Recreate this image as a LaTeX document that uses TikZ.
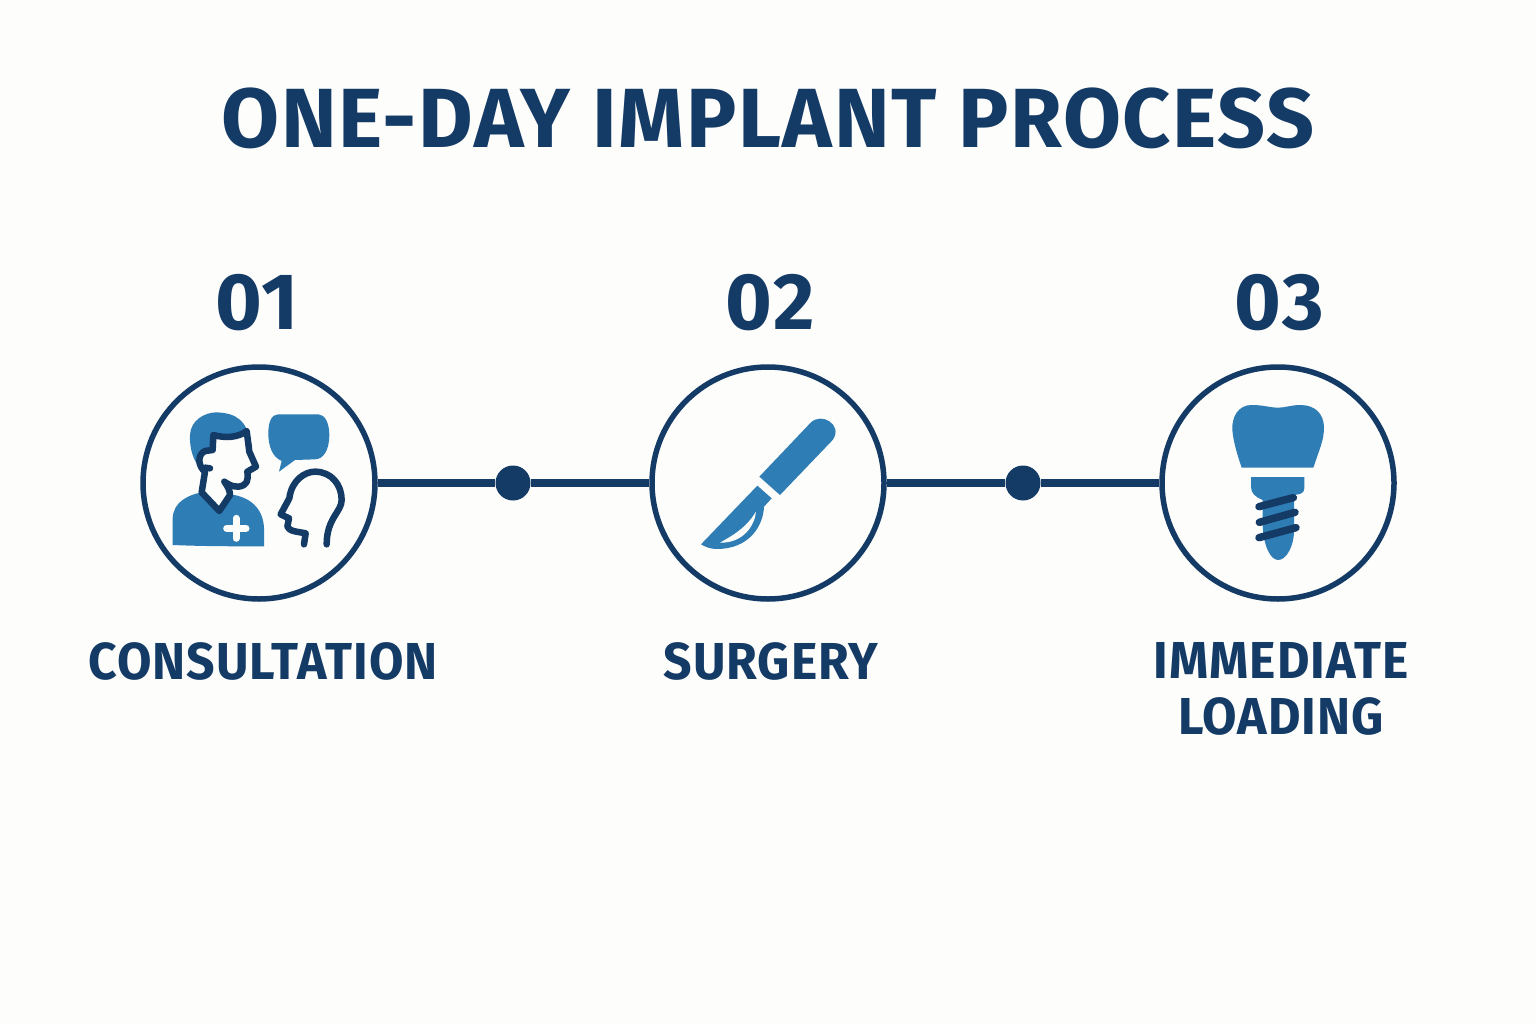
\documentclass[tikz,border=0pt]{standalone}
\usepackage{fontspec}
\setmainfont{Fira Sans}
\newfontfamily\titlefont[LetterSpace=2,Numbers=Lining]{Fira Sans}
\newfontfamily\labelfont[LetterSpace=2,FakeStretch=0.96]{Fira Sans}
\definecolor{navy}{HTML}{143A66}
\definecolor{iconblue}{HTML}{2E7DB5}
\definecolor{paper}{HTML}{FDFDFB}
\tikzset{
  stepcircle/.style={circle,draw=navy,line width=5.5pt,fill=paper,minimum size=232pt,inner sep=0pt},
  linkdot/.style={circle,fill=navy,minimum size=35pt,inner sep=0pt},
  link/.style={draw=navy,line width=8pt},
  titletext/.style={text=navy,font=\titlefont\bfseries\fontsize{84}{90}\selectfont,inner sep=0pt},
  numtext/.style={text=navy,font=\titlefont\bfseries\fontsize{80}{80}\selectfont,inner sep=0pt},
  labeltext/.style={text=navy,font=\labelfont\bfseries\fontsize{52}{56}\selectfont,inner sep=0pt,align=center},
  iconspace/.style={x=0.33333pt,y=-0.33333pt},
  iline/.style={draw=navy,line width=6.5pt,line join=round,line cap=round},
  threadline/.style={draw=navy,line width=7.5pt,line cap=round},
}
\begin{document}
\begin{tikzpicture}[x=1pt,y=-1pt]
\path[use as bounding box,fill=paper] (0,0) rectangle (1536,1024);
\node[titletext] (title) at (768,118) {ONE-DAY IMPLANT PROCESS};
\node[stepcircle] (c1) at (259,483) {};
\node[stepcircle] (c2) at (768,483) {};
\node[stepcircle] (c3) at (1278,483) {};
\node[linkdot] (d1) at (513,483) {};
\node[linkdot] (d2) at (1023,483) {};
\draw[link] (c1) -- (d1);
\draw[link] (d1) -- (c2);
\draw[link] (c2) -- (d2);
\draw[link] (d2) -- (c3);
\node[numtext] (n1) at (257,303) {01};
\node[numtext] (n2) at (770,303) {02};
\node[numtext] (n3) at (1279,303) {03};
\node[labeltext] (l1) at (263,661) {CONSULTATION};
\node[labeltext] (l2) at (771,661) {SURGERY};
\node[labeltext] (l3) at (1281,689) {IMMEDIATE\\LOADING};
% consultation icon
\begin{scope}[shift={(130,355)},iconspace]
\fill[iconblue] (215,345) .. controls (190,320) and (178,280) .. (180,240)
  .. controls (182,195) and (225,172) .. (260,172)
  .. controls (320,175) and (350,195) .. (365,270) -- (250,300) -- cycle;
\fill[iconblue] (128,570) -- (128,490) .. controls (130,440) and (175,420) .. (215,412)
  -- (268,468) -- (300,418) .. controls (360,425) and (400,460) .. (402,520) -- (402,574)
  .. controls (310,574) and (220,574) .. (128,570) -- cycle;
\draw[line width=7pt,color=paper,line cap=round] (290,520) -- (348,520) (318,490) -- (318,550);
\draw[iline,fill=paper] (250,240) .. controls (285,250) and (325,248) .. (350,228)
  -- (358,290) -- (378,335) -- (352,350) .. controls (356,375) and (352,392) .. (325,395)
  .. controls (305,395) and (295,388) .. (283,380) .. controls (295,395) and (300,410) .. (300,420)
  -- (268,468) -- (215,412) -- (225,350) .. controls (205,335) and (200,300) .. (225,288)
  -- (248,285) -- cycle;
\draw[iline] (225,338) -- (240,340);
\fill[iconblue] (445,178) -- (565,178) .. controls (585,178) and (598,205) .. (598,240)
  .. controls (598,285) and (580,313) .. (555,313) -- (495,315) -- (447,350) -- (455,318)
  .. controls (425,305) and (415,270) .. (415,235) .. controls (415,200) and (425,178) .. (445,178) -- cycle;
\draw[iline] (522,568) -- (527,535) .. controls (505,530) and (478,530) .. (472,515)
  -- (477,490) -- (452,478) -- (478,430) .. controls (485,375) and (525,350) .. (555,350)
  .. controls (605,350) and (635,390) .. (635,435) .. controls (635,470) and (590,490) .. (590,568);
\end{scope}
% scalpel icon
\begin{scope}[shift={(640,355)},iconspace]
\fill[iconblue] (358,365) -- (512,203) .. controls (545,170) and (610,210) .. (578,255) -- (420,420) -- cycle;
\fill[iconblue] (352,392) -- (395,430) -- (372,455) .. controls (370,510) and (330,582) .. (230,582)
  .. controls (210,582) and (195,575) .. (183,568) -- cycle;
\fill[paper] (348,470) .. controls (345,510) and (310,565) .. (240,563)
  .. controls (290,535) and (320,515) .. (348,470) -- cycle;
\end{scope}
% implant icon
\begin{scope}[shift={(1150,355)},iconspace]
\fill[iconblue] (275,338) -- (490,338) -- (510,280) .. controls (520,250) and (522,235) .. (522,215)
  .. controls (520,175) and (495,150) .. (450,150) .. controls (425,150) and (405,158) .. (385,158)
  .. controls (360,158) and (340,150) .. (305,150) .. controls (265,150) and (245,185) .. (247,225)
  .. controls (250,260) and (262,300) .. (275,338) -- cycle;
\fill[iconblue] (303,366) -- (463,366) -- (463,400) .. controls (463,415) and (450,418) .. (432,420)
  -- (432,530) .. controls (432,570) and (410,615) .. (385,615)
  .. controls (360,615) and (340,570) .. (338,510) -- (338,435)
  .. controls (315,425) and (303,415) .. (303,395) -- cycle;
\draw[threadline] (327,455) -- (430,428);
\draw[threadline] (328,502) -- (435,472);
\draw[threadline] (327,548) -- (438,518);
\end{scope}
\end{tikzpicture}
\end{document}
